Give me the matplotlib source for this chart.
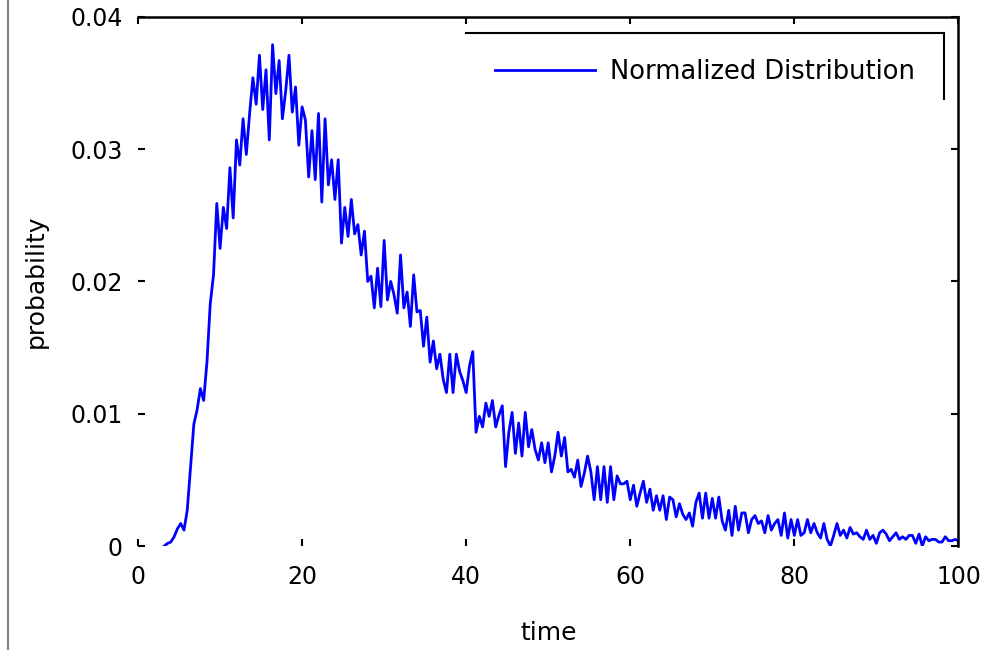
import numpy as np
import matplotlib.pyplot as plt
from matplotlib.lines import Line2D

# time grid of the normalized distribution (step 0.4)
t_start, t_step = 3.2, 0.4
probability = [
    0.0000, 0.0002, 0.0003, 0.0007, 0.0013, 0.0017, 0.0012, 0.0027, 0.0060, 0.0092,
    0.0103, 0.0119, 0.0110, 0.0139, 0.0183, 0.0205, 0.0259, 0.0225, 0.0256, 0.0240,
    0.0286, 0.0248, 0.0307, 0.0288, 0.0323, 0.0296, 0.0327, 0.0354, 0.0334, 0.0371,
    0.0330, 0.0360, 0.0307, 0.0379, 0.0342, 0.0367, 0.0323, 0.0344, 0.0371, 0.0328,
    0.0347, 0.0303, 0.0332, 0.0322, 0.0279, 0.0314, 0.0277, 0.0327, 0.0260, 0.0323,
    0.0273, 0.0292, 0.0262, 0.0292, 0.0229, 0.0256, 0.0234, 0.0262, 0.0236, 0.0243,
    0.0220, 0.0238, 0.0200, 0.0204, 0.0180, 0.0210, 0.0181, 0.0231, 0.0186, 0.0200,
    0.0190, 0.0176, 0.0220, 0.0180, 0.0192, 0.0166, 0.0205, 0.0177, 0.0178, 0.0151,
    0.0173, 0.0139, 0.0155, 0.0134, 0.0145, 0.0126, 0.0116, 0.0145, 0.0116, 0.0145,
    0.0132, 0.0125, 0.0116, 0.0136, 0.0147, 0.0086, 0.0098, 0.0090, 0.0108, 0.0098,
    0.0110, 0.0090, 0.0099, 0.0106, 0.0060, 0.0086, 0.0101, 0.0070, 0.0093, 0.0068,
    0.0101, 0.0075, 0.0088, 0.0073, 0.0065, 0.0078, 0.0063, 0.0078, 0.0056, 0.0068,
    0.0086, 0.0068, 0.0082, 0.0056, 0.0058, 0.0052, 0.0065, 0.0045, 0.0055, 0.0068,
    0.0056, 0.0035, 0.0060, 0.0035, 0.0060, 0.0033, 0.0060, 0.0035, 0.0053, 0.0047,
    0.0047, 0.0049, 0.0035, 0.0046, 0.0030, 0.0040, 0.0049, 0.0033, 0.0043, 0.0027,
    0.0038, 0.0027, 0.0038, 0.0020, 0.0037, 0.0035, 0.0022, 0.0032, 0.0024, 0.0020,
    0.0025, 0.0015, 0.0033, 0.0040, 0.0021, 0.0040, 0.0021, 0.0036, 0.0021, 0.0037,
    0.0019, 0.0012, 0.0027, 0.0008, 0.0030, 0.0012, 0.0025, 0.0025, 0.0010, 0.0020,
    0.0023, 0.0017, 0.0019, 0.0010, 0.0023, 0.0012, 0.0017, 0.0020, 0.0008, 0.0025,
    0.0006, 0.0020, 0.0008, 0.0020, 0.0008, 0.0010, 0.0020, 0.0010, 0.0017, 0.0010,
    0.0006, 0.0017, 0.0005, 0.0000, 0.0008, 0.0017, 0.0008, 0.0012, 0.0006, 0.0014,
    0.0009, 0.0010, 0.0007, 0.0005, 0.0012, 0.0005, 0.0008, 0.0002, 0.0010, 0.0012,
    0.0009, 0.0004, 0.0007, 0.0010, 0.0005, 0.0007, 0.0005, 0.0008, 0.0008, 0.0002,
    0.0009, 0.0000, 0.0007, 0.0004, 0.0005, 0.0005, 0.0003, 0.0003, 0.0007, 0.0004,
    0.0004, 0.0005, 0.0004,
]
time = t_start + t_step * np.arange(len(probability))

x_ticks = [0, 20, 40, 60, 80, 100]
y_ticks = [0, 0.01, 0.02, 0.03, 0.04]
y_tick_labels = ['0', '0.01', '0.02', '0.03', '0.04']

fig = plt.figure(figsize=(9.86, 6.5), dpi=100)
ax = fig.add_axes([0.140, 0.160, 0.832, 0.814])

ax.plot(time, probability, color='#0000ff', lw=2.0, label='Normalized Distribution')

ax.set_xlim(0, 100)
ax.set_ylim(0, 0.04)
ax.set_xticks(x_ticks)
ax.set_yticks(y_ticks)
ax.set_yticklabels(y_tick_labels)

ax.spines['left'].set_visible(False)
ax.spines['bottom'].set_visible(False)
for side in ['top', 'right']:
    ax.spines[side].set_linewidth(1.8)

ax.tick_params(direction='in', top=True, right=True, length=5, width=1.5, labelsize=17)
ax.tick_params(axis='x', pad=14)
ax.tick_params(axis='y', pad=11)

ax.set_xlabel('time', fontsize=18)
ax.set_ylabel('probability', fontsize=18)
ax.xaxis.set_label_coords(0.5, -0.142)
ax.yaxis.set_label_coords(-0.11, 0.5)

# legend with only top and right border lines
ax.legend(loc='center', bbox_to_anchor=(0.691, 0.895), frameon=False,
          fontsize=18.5, handlelength=3.9, handletextpad=0.55)
ax.plot([0.40, 0.983], [0.97, 0.97], color='black', lw=1.5, transform=ax.transAxes, clip_on=False)
ax.plot([0.983, 0.983], [0.97, 0.845], color='black', lw=1.5, transform=ax.transAxes, clip_on=False)

# grey border line at the left edge
fig.add_artist(Line2D([0.0085, 0.0085], [0, 1], color='#808080', lw=1.5, transform=fig.transFigure))

fig.savefig('out.png', dpi=100)
